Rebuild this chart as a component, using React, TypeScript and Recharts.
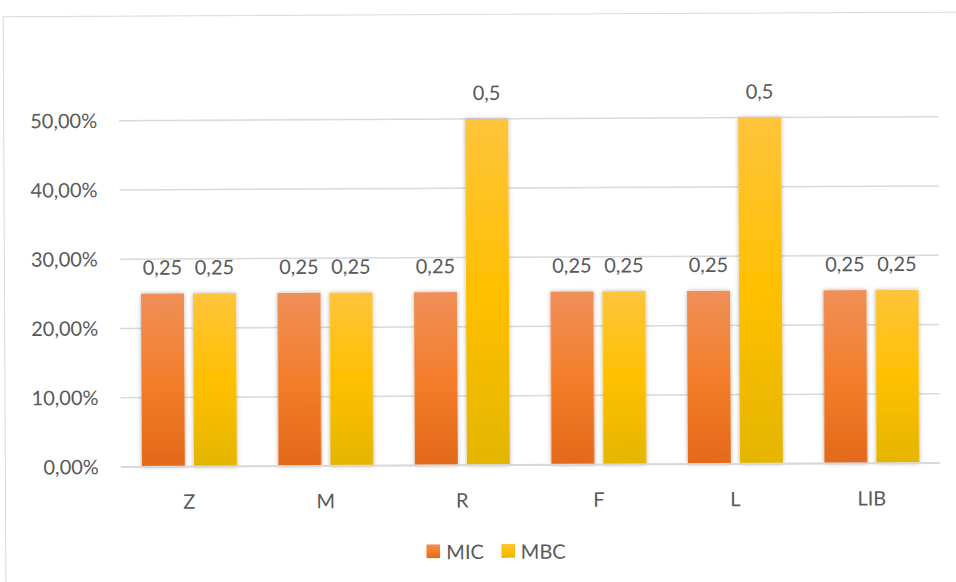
import React from 'react';
import { BarChart, Bar, XAxis, YAxis, CartesianGrid, Legend, LabelList } from 'recharts';

// Categories and series values
const categories = ['Z', 'M', 'R', 'F', 'L', 'LIB'];
const micValues = [0.25, 0.25, 0.25, 0.25, 0.25, 0.25];
const mbcValues = [0.25, 0.25, 0.5, 0.25, 0.5, 0.25];
const yTicks = [0, 0.1, 0.2, 0.3, 0.4, 0.5];

const data = categories.map((name, i) => ({ name, MIC: micValues[i], MBC: mbcValues[i] }));

const FONT = 'Lato, "Open Sans", sans-serif';
const TEXT = '#595959';
const GRID = '#D9D9D9';

const pct = (v: number) => (v * 100).toFixed(2).replace('.', ',') + '%';
const dec = (v: any) => String(v).replace('.', ',');

const legendItems = [
  { key: 'MIC', fill: 'url(#gradMic)' },
  { key: 'MBC', fill: 'url(#gradMbc)' },
];

const renderLegend = () => (
  <div style={{ display: 'flex', alignItems: 'center', height: 26, fontFamily: FONT, fontSize: 20, color: TEXT }}>
    {legendItems.map((it, i) => (
      <div key={it.key} style={{ display: 'flex', alignItems: 'center', marginRight: i === 0 ? 17 : 0 }}>
        <svg width={14} height={14} style={{ marginRight: 6 }}>
          <rect x={0} y={0} width={14} height={14} fill={it.fill} />
        </svg>
        <span>{it.key}</span>
      </div>
    ))}
  </div>
);

export default function App() {
  return (
    <div style={{ position: 'fixed', left: 0, top: 0, width: 956, height: 582, overflow: 'hidden', background: '#fff' }}>
      <div style={{ position: 'absolute', left: 0, top: 0, width: 956, height: 582, transform: 'rotate(-0.28deg)' }}>
        <div
          style={{
            position: 'absolute',
            left: 4,
            top: 14,
            width: 1100,
            height: 800,
            border: `1.5px solid ${GRID}`,
            boxSizing: 'border-box',
          }}
        />
        <div style={{ position: 'absolute', left: 0, top: 0 }}>
          <BarChart
            width={956}
            height={582}
            data={data}
            margin={{ top: 119, right: 17, bottom: 50, left: 0 }}
            barSize={43}
            barGap={9}
          >
            <defs>
              <linearGradient id="gradMic" x1="0" y1="0" x2="0" y2="1">
                <stop offset="0%" stopColor="#F08F59" />
                <stop offset="50%" stopColor="#F37E2B" />
                <stop offset="100%" stopColor="#E3691A" />
              </linearGradient>
              <linearGradient id="gradMbc" x1="0" y1="0" x2="0" y2="1">
                <stop offset="0%" stopColor="#FFC43C" />
                <stop offset="50%" stopColor="#FFC000" />
                <stop offset="100%" stopColor="#E4B500" />
              </linearGradient>
              <filter id="barShadow" x="-20%" y="-5%" width="140%" height="110%">
                <feDropShadow dx="0" dy="0" stdDeviation="2" floodColor="#000" floodOpacity="0.3" />
              </filter>
            </defs>
            <CartesianGrid vertical={false} stroke={GRID} strokeWidth={1.5} />
            <XAxis
              dataKey="name"
              height={40}
              axisLine={{ stroke: GRID, strokeWidth: 2 }}
              tickLine={false}
              tickMargin={22}
              tick={{ fill: TEXT, fontSize: 20, fontFamily: FONT }}
            />
            <YAxis
              width={120}
              domain={[0, 0.5]}
              ticks={yTicks}
              tickFormatter={pct}
              axisLine={false}
              tickLine={false}
              tickMargin={16}
              tick={{ fill: TEXT, fontSize: 20, fontFamily: FONT }}
            />
            <Legend
              verticalAlign="bottom"
              content={renderLegend}
              wrapperStyle={{ left: 425, bottom: 18, width: 170, height: 26 }}
            />
            <Bar dataKey="MIC" fill="url(#gradMic)" filter="url(#barShadow)" isAnimationActive={false}>
              <LabelList dataKey="MIC" position="top" offset={19} formatter={dec} fill={TEXT} fontSize={20} fontFamily={FONT} />
            </Bar>
            <Bar dataKey="MBC" fill="url(#gradMbc)" filter="url(#barShadow)" isAnimationActive={false}>
              <LabelList dataKey="MBC" position="top" offset={19} formatter={dec} fill={TEXT} fontSize={20} fontFamily={FONT} />
            </Bar>
          </BarChart>
        </div>
      </div>
    </div>
  );
}
